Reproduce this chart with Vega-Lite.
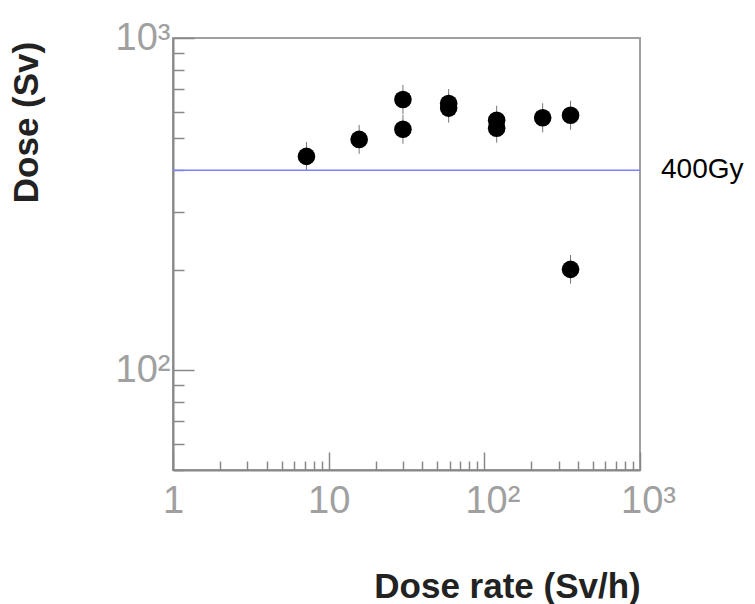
{
  "$schema": "https://vega.github.io/schema/vega-lite/v6.json",
  "width": 467,
  "height": 432,
  "autosize": {"type": "none"},
  "padding": {"left": 173, "top": 38, "right": 115, "bottom": 134},
  "background": "white",
  "config": {
    "view": {"stroke": "#a0a0a0", "strokeWidth": 2},
    "font": "Liberation Sans"
  },
  "datasets": {
    "pts": [
      {"rate": 7.2, "dose": 440, "lo": 398, "hi": 486},
      {"rate": 15.7, "dose": 495, "lo": 448, "hi": 547},
      {"rate": 30, "dose": 653, "lo": 590, "hi": 722},
      {"rate": 30, "dose": 531, "lo": 480, "hi": 587},
      {"rate": 59, "dose": 635, "lo": 574, "hi": 702},
      {"rate": 59, "dose": 615, "lo": 556, "hi": 680},
      {"rate": 120, "dose": 565, "lo": 511, "hi": 625},
      {"rate": 120, "dose": 535, "lo": 484, "hi": 591},
      {"rate": 237, "dose": 575, "lo": 520, "hi": 636},
      {"rate": 358, "dose": 585, "lo": 529, "hi": 647},
      {"rate": 358, "dose": 201, "lo": 182, "hi": 222}
    ]
  },
  "layer": [
    {
      "data": {"name": "pts"},
      "mark": {"type": "rule", "color": "#777", "strokeWidth": 1},
      "encoding": {
        "x": {
          "field": "rate", "type": "quantitative",
          "scale": {"type": "log", "domain": [1, 1000], "nice": false},
          "axis": {
            "title": "Dose rate (Sv/h)",
            "values": [1,2,3,4,5,6,7,8,9,10,20,30,40,50,60,70,80,90,100,200,300,400,500,600,700,800,900,1000],
            "labelExpr": "datum.value == 1 ? '1' : datum.value == 10 ? '10' : datum.value == 100 ? '10²' : datum.value == 1000 ? '10³' : ''",
            "labelFontSize": 38,
            "labelColor": "#a0a0a0",
            "labelFont": "Liberation Sans",
            "labelPadding": 30,
            "labelBaseline": "top",
            "labelFlush": false,
            "labelOverlap": false,
            "labelOffset": {"condition": {"test": "datum.value == 100 || datum.value == 1000", "value": 8}, "value": 0},
            "tickSize": {"condition": {"test": "datum.value == 1 || datum.value == 10 || datum.value == 100 || datum.value == 1000", "value": -18}, "value": -9},
            "tickColor": "#888",
            "tickWidth": 1.5,
            "domainColor": "#888",
            "domainWidth": 2,
            "grid": false,
            "titleFont": "Liberation Sans",
            "titleFontSize": 35,
            "titleFontWeight": "bold",
            "titleColor": "#222",
            "titleAnchor": null,
            "titleAlign": "center",
            "titleBaseline": "alphabetic",
            "titleX": 334,
            "titleY": 127
          }
        },
        "y": {
          "field": "lo", "type": "quantitative",
          "scale": {"type": "log", "domain": [50, 1000], "nice": false},
          "axis": {
            "title": "Dose (Sv)",
            "values": [50,60,70,80,90,100,200,300,400,500,600,700,800,900,1000],
            "labelExpr": "datum.value == 100 ? '10²' : datum.value == 1000 ? '10³' : ''",
            "labelFontSize": 38,
            "labelColor": "#a0a0a0",
            "labelFont": "Liberation Sans",
            "labelPadding": 24,
            "labelBaseline": "middle",
            "labelFlush": false,
            "labelOverlap": false,
            "tickSize": {"condition": {"test": "datum.value == 100 || datum.value == 1000", "value": -21}, "value": -11},
            "tickColor": "#888",
            "tickWidth": 1.5,
            "domainColor": "#888",
            "domainWidth": 2,
            "grid": false,
            "titleFont": "Liberation Sans",
            "titleFontSize": 35,
            "titleFontWeight": "bold",
            "titleColor": "#222",
            "titleAnchor": null,
            "titleAngle": 270,
            "titleAlign": "center",
            "titleBaseline": "middle",
            "titleX": -147,
            "titleY": 84
          }
        },
        "y2": {"field": "hi"}
      }
    },
    {
      "data": {"name": "pts"},
      "mark": {"type": "point", "filled": true, "color": "black", "opacity": 1, "size": 310},
      "encoding": {
        "x": {"field": "rate", "type": "quantitative"},
        "y": {"field": "dose", "type": "quantitative"}
      }
    },
    {
      "data": {"values": [{"level": 400, "label": "400Gy"}]},
      "mark": {"type": "rule", "color": "#8080ff", "strokeWidth": 1.5},
      "encoding": {
        "y": {"field": "level", "type": "quantitative"}
      }
    },
    {
      "data": {"values": [{"level": 400, "label": "400Gy", "edge": 1000}]},
      "mark": {"type": "text", "align": "left", "baseline": "middle", "dx": 21, "fontSize": 28, "font": "Liberation Sans", "color": "black"},
      "encoding": {
        "x": {"field": "edge", "type": "quantitative"},
        "y": {"field": "level", "type": "quantitative"},
        "text": {"field": "label"}
      }
    }
  ]
}
